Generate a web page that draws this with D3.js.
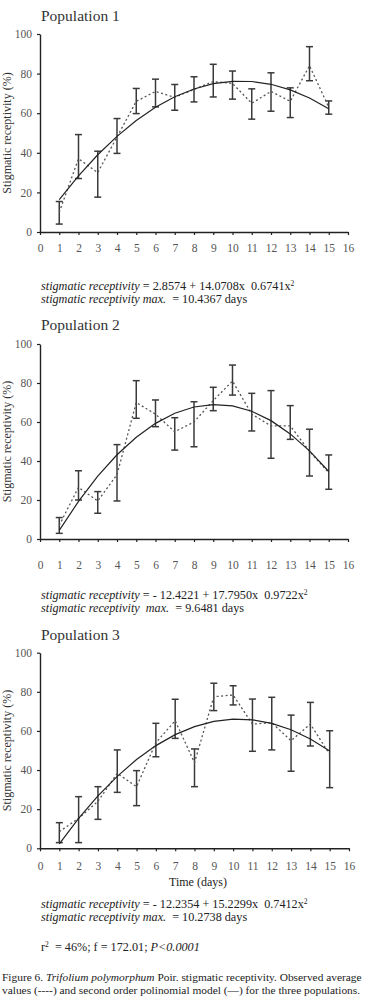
<!DOCTYPE html>
<html><head><meta charset="utf-8">
<script src="https://cdn.jsdelivr.net/npm/d3@7"></script>
<style>
html,body{margin:0;padding:0;background:#fff;}
svg{display:block;}
svg text{font-family:'Liberation Serif','DejaVu Serif',serif;}
</style></head>
<body><svg id="c" width="369" height="1005"></svg>
<script>
const days = [1,2,3,4,5,6,7,8,9,10,11,12,13,14,15];
const xTicks = [0,1,2,3,4,5,6,7,8,9,10,11,12,13,14,15,16];
const yTicks = [0,20,40,60,80,100];

const pop1Mean = [10,37,30,48,66,71,68,72,76,75,65,71,66,84,63];
const pop1Lo   = [4,27,17.6,39.7,59.8,63.2,61.5,65.7,68.2,67.1,57,61,57.8,76.4,59.5];
const pop1Hi   = [15.4,49.2,40.8,57.3,72.5,77.2,74.5,78.4,84.7,81.3,72.3,80.4,72.8,93.6,66.2];
const pop1Fit  = [16.3,28.3,39.0,48.3,56.3,63.0,68.3,72.2,74.9,76.1,76.0,74.6,71.8,67.7,62.2];

const pop2Mean = [7,26.5,19.5,33,70,64,55,60,71,81,64,58,58,45,34];
const pop2Lo   = [2.9,20,13.2,19.5,61.9,57.6,45.6,47.3,65.8,73.8,55.4,41.4,51.1,32.3,25.5];
const pop2Hi   = [11,35,24.3,48.4,81.2,71.3,62.2,70.4,77.8,89.2,74.7,76.1,68.4,56.3,43.1];
const pop2Fit  = [4.4,19.3,32.2,43.2,52.2,59.3,64.5,67.7,68.9,68.3,65.5,60.7,53.9,45.2,34.6];

const pop3Mean = [8.5,15.3,24,38.3,31.5,54,65.2,43.8,77.5,78.4,63.5,64.2,55,63.5,48];
const pop3Lo   = [2.9,2.9,14.8,28.6,21.8,46.8,56.2,31.5,70.4,73.3,49.6,50.3,39.4,52.3,31];
const pop3Hi   = [13.1,26.4,31.5,50.3,39.7,63.9,76.2,50.8,84.4,83.1,76.3,77.2,68.1,74.6,60.1];
const pop3Fit  = [2.3,15.3,26.8,36.8,45.4,52.5,58.1,62.2,64.9,66.0,65.7,63.9,60.6,55.9,49.7];

const titles = ["Population 1","Population 2","Population 3"];
const eqConst = [" = 2.8574 + 14.0708x  0.6741x"," = - 12.4221 + 17.7950x  0.9722x"," = - 12.2354 + 15.2299x  0.7412x"];
const eqMaxLabel = ["stigmatic receptivity max.","stigmatic receptivity  max.","stigmatic receptivity max."];
const eqMaxVal = ["  = 10.4367 days","  = 9.6481 days","  = 10.2738 days"];

const FF = "'Liberation Serif','DejaVu Serif',serif";
const svg = d3.select("#c");
const ink = "#333";

const panels = [
  {mean:pop1Mean, lo:pop1Lo, hi:pop1Hi, fit:pop1Fit, top:34, bot:232, xr:348, titleY:21, lab:20, eqY:290},
  {mean:pop2Mean, lo:pop2Lo, hi:pop2Hi, fit:pop2Fit, top:344, bot:539, xr:348, titleY:330, lab:30, eqY:599},
  {mean:pop3Mean, lo:pop3Lo, hi:pop3Hi, fit:pop3Fit, top:652.7, bot:848.3, xr:349, titleY:640, lab:21.5, eqY:908}
];

panels.forEach((p,i)=>{
  const x = d3.scaleLinear().domain([0,16]).range([40,p.xr]);
  const y = d3.scaleLinear().domain([0,100]).range([p.bot,p.top]);
  const g = svg.append("g");

  g.append("text").attr("x",41).attr("y",p.titleY).attr("font-size",15.5).attr("fill",ink).text(titles[i]);

  const ya = g.append("g").attr("transform",`translate(40,0)`)
    .call(d3.axisLeft(y).tickValues(yTicks).tickSize(3).tickSizeOuter(0).tickPadding(5));
  ya.attr("font-family",null);
  ya.select(".domain").attr("stroke","#222").attr("stroke-width",1.4);
  ya.selectAll(".tick line").attr("stroke","#222").attr("stroke-width",1.2);
  ya.selectAll(".tick text").attr("font-size",11.5).attr("fill","#555");

  const xa = g.append("g").attr("transform",`translate(0,${p.bot})`)
    .call(d3.axisBottom(x).tickValues(xTicks).tickSize(3).tickSizeOuter(0).tickPadding(p.lab-11));
  xa.attr("font-family",null);
  xa.select(".domain").attr("stroke","#222").attr("stroke-width",1.4);
  xa.selectAll(".tick line").attr("stroke","#222").attr("stroke-width",1.2);
  xa.selectAll(".tick text").attr("font-size",11.5).attr("fill","#555");

  g.append("text").attr("transform",`translate(11,${(p.top+p.bot)/2}) rotate(-90)`)
    .attr("text-anchor","middle").attr("font-size",12).attr("fill",ink)
    .text("Stigmatic receptivity (%)");

  const eb = g.append("g").attr("stroke","#3a3a3a").attr("stroke-width",1.5).attr("fill","none");
  days.forEach((d,k)=>{
    const cx = x(d);
    eb.append("line").attr("x1",cx).attr("x2",cx).attr("y1",y(p.lo[k])).attr("y2",y(p.hi[k]));
    eb.append("line").attr("x1",cx-3.5).attr("x2",cx+3.5).attr("y1",y(p.lo[k])).attr("y2",y(p.lo[k]));
    eb.append("line").attr("x1",cx-3.5).attr("x2",cx+3.5).attr("y1",y(p.hi[k])).attr("y2",y(p.hi[k]));
  });

  const line = d3.line().x((d,k)=>x(days[k])).y(d=>y(d));
  g.append("path").datum(p.mean).attr("d",line).attr("fill","none")
    .attr("stroke","#555").attr("stroke-width",1.3).attr("stroke-dasharray","2,2.5");
  g.append("path").datum(p.fit).attr("d",line).attr("fill","none")
    .attr("stroke","#222").attr("stroke-width",1.2);

  const t1 = g.append("text").attr("x",41).attr("y",p.eqY).attr("font-size",12.2).attr("fill","#222").attr("xml:space","preserve");
  t1.append("tspan").attr("font-style","italic").text("stigmatic receptivity");
  t1.append("tspan").text(eqConst[i]);
  t1.append("tspan").attr("font-size",7.5).attr("dy",-4.5).text("2");
  const t2 = g.append("text").attr("x",41).attr("y",p.eqY+12.5).attr("font-size",12.2).attr("fill","#222").attr("xml:space","preserve");
  t2.append("tspan").attr("font-style","italic").text(eqMaxLabel[i]);
  t2.append("tspan").text(eqMaxVal[i]);
});

svg.append("text").attr("x",198).attr("y",886).attr("text-anchor","middle").attr("font-size",12).attr("fill","#222").text("Time (days)");

const r = svg.append("text").attr("x",41).attr("y",951).attr("font-size",12.2).attr("fill","#222").attr("xml:space","preserve");
r.append("tspan").text("r");
r.append("tspan").attr("font-size",7.5).attr("dy",-4.5).text("2");
r.append("tspan").attr("dy",4.5).text("  = 46%; f = 172.01; ");
r.append("tspan").attr("font-style","italic").text("P<0.0001");

const c1 = svg.append("text").attr("x",2).attr("y",981).attr("font-size",11.4).attr("fill","#222");
c1.append("tspan").text("Figure 6. ");
c1.append("tspan").attr("font-style","italic").text("Trifolium polymorphum");
c1.append("tspan").text(" Poir. stigmatic receptivity. Observed average");
svg.append("text").attr("x",2).attr("y",994).attr("font-size",11.4).attr("fill","#222")
  .text("values (----) and second order polinomial model (\u2014) for the three populations.");
</script></body></html>
